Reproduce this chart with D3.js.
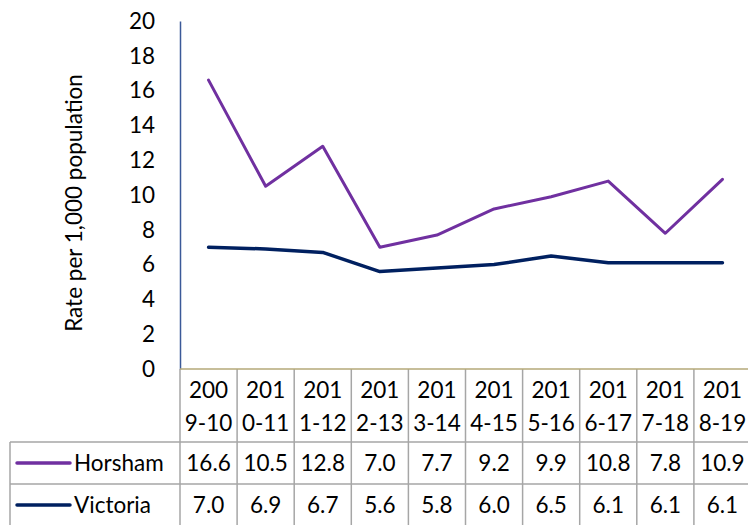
<!doctype html>
<html>
   <head>
      <meta charset="utf-8">
      <title>D3.js</title>
      <style>
         body { margin: 0; background: #fff; }
         text { font-family: Lato, "Open Sans", sans-serif; fill: #000; }
      </style>
   </head>
   <body>
      <div id="here"></div>
      <script src="https://d3js.org/d3.v7.min.js"></script>
      <script>
         var categories = ["2009-10","2010-11","2011-12","2012-13","2013-14","2014-15","2015-16","2016-17","2017-18","2018-19"];
         var horsham = [16.6, 10.5, 12.8, 7.0, 7.7, 9.2, 9.9, 10.8, 7.8, 10.9];
         var victoria = [7.0, 6.9, 6.7, 5.6, 5.8, 6.0, 6.5, 6.1, 6.1, 6.1];
         var yTicks = [0, 2, 4, 6, 8, 10, 12, 14, 16, 18, 20];
         var seriesNames = ["Horsham", "Victoria"];
         var seriesColors = ["#7030a0", "#002060"];

         var w = 748, h = 525, fs = 22.5;
         var plotL = 180, plotR = 751, plotT = 21, plotB = 369;
         var rowH = 42, headH = 73, tableLeft = 10;

         var svg = d3.select("#here").append("svg")
           .attr("width", w)
           .attr("height", h);

         var x = d3.scaleBand().domain(categories).range([plotL, plotR]);
         var y = d3.scaleLinear().domain([0, 20]).range([plotB, plotT]);

         // eje y
         var yAxis = svg.append("g")
           .attr("transform", "translate(" + plotL + ",0)")
           .call(d3.axisLeft(y).tickValues(yTicks).tickSize(0).tickPadding(25));
         yAxis.select(".domain").attr("stroke", "#3b5998").attr("stroke-width", 1.5);
         yAxis.selectAll("text").attr("font-size", fs).attr("font-family", "Lato").attr("fill", "#000");

         svg.append("text")
           .attr("transform", "translate(82," + ((plotT + plotB) / 2 + 8) + ") rotate(-90)")
           .attr("text-anchor", "middle")
           .attr("font-size", fs)
           .text("Rate per 1,000 population");

         // líneas
         var series = [horsham, victoria];
         var line = d3.line()
           .x(function(d, i) { return x(categories[i]) + x.bandwidth() / 2; })
           .y(function(d) { return y(d); });

         svg.selectAll("path.serie")
           .data(series)
           .enter()
           .append("path")
           .attr("class", "serie")
           .attr("d", line)
           .attr("fill", "none")
           .attr("stroke", function(d, i) { return seriesColors[i]; })
           .attr("stroke-width", function(d, i) { return i == 0 ? 3 : 3.5; })
           .attr("stroke-linejoin", "round")
           .attr("stroke-linecap", "round");

         // tabla de datos
         var grid = "#a6a6a6";
         var tableBottom = plotB + headH + rowH * 2 + 2;

         categories.forEach(function(c) {
           svg.append("line")
             .attr("x1", x(c) + x.bandwidth()).attr("x2", x(c) + x.bandwidth())
             .attr("y1", plotB).attr("y2", tableBottom)
             .attr("stroke", grid).attr("stroke-width", 1.5);
         });
         svg.append("line")
           .attr("x1", plotL).attr("x2", plotL)
           .attr("y1", plotB).attr("y2", tableBottom)
           .attr("stroke", grid).attr("stroke-width", 1.5);
         [plotB + headH, plotB + headH + rowH].forEach(function(yy) {
           svg.append("line")
             .attr("x1", tableLeft).attr("x2", plotR)
             .attr("y1", yy).attr("y2", yy)
             .attr("stroke", grid).attr("stroke-width", 1.5);
         });
         svg.append("line")
           .attr("x1", tableLeft).attr("x2", tableLeft)
           .attr("y1", plotB + headH).attr("y2", tableBottom)
           .attr("stroke", grid).attr("stroke-width", 1.5);

         // eje x (borde superior de la tabla)
         svg.append("line")
           .attr("x1", plotL).attr("x2", plotR)
           .attr("y1", plotB).attr("y2", plotB)
           .attr("stroke", "#b5a878").attr("stroke-width", 1.5);

         var head = svg.selectAll("g.head")
           .data(categories)
           .enter()
           .append("g")
           .attr("transform", function(d) { return "translate(" + (x(d) + x.bandwidth() / 2) + "," + plotB + ")"; });
         head.append("text")
           .attr("y", 21).attr("dy", "0.35em")
           .attr("text-anchor", "middle").attr("font-size", fs)
           .text(function(d) { return d.slice(0, 3); });
         head.append("text")
           .attr("y", 54).attr("dy", "0.35em")
           .attr("text-anchor", "middle").attr("font-size", fs)
           .text(function(d) { return d.slice(3); });

         series.forEach(function(s, k) {
           var cy = plotB + headH + rowH * k + rowH / 2;
           svg.append("line")
             .attr("x1", 17).attr("x2", 70)
             .attr("y1", cy).attr("y2", cy)
             .attr("stroke", seriesColors[k]).attr("stroke-width", 3.5)
             .attr("stroke-linecap", "round");
           svg.append("text")
             .attr("x", 74).attr("y", cy).attr("dy", "0.35em")
             .attr("font-size", fs)
             .text(seriesNames[k]);
           svg.selectAll(null)
             .data(s)
             .enter()
             .append("text")
             .attr("x", function(d, i) { return x(categories[i]) + x.bandwidth() / 2; })
             .attr("y", cy).attr("dy", "0.35em")
             .attr("text-anchor", "middle").attr("font-size", fs)
             .text(function(d) { return d.toFixed(1); });
         });
      </script>
   </body>
</html>
